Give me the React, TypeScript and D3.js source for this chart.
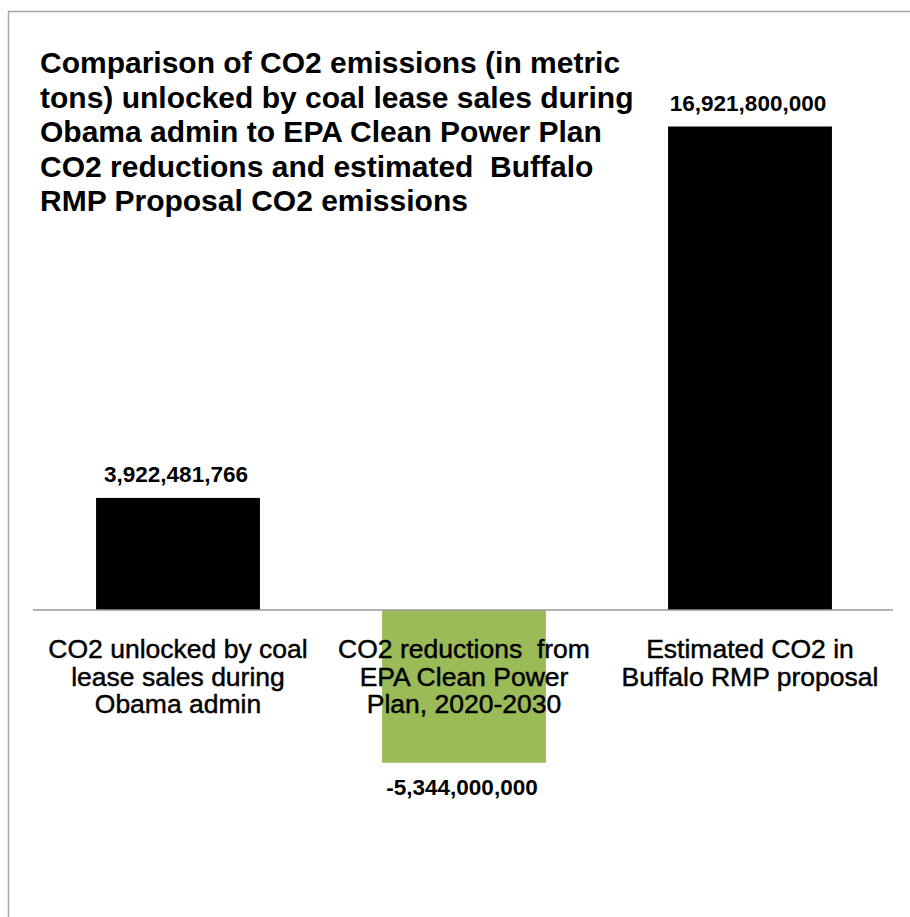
import React from "react";
import * as d3 from "d3";

const categories: string[][] = [
  ["CO2 unlocked by coal", "lease sales during", "Obama admin"],
  ["CO2 reductions  from", "EPA Clean Power", "Plan, 2020-2030"],
  ["Estimated CO2 in", "Buffalo RMP proposal"],
];
const categoryKeys = ["coal", "cpp", "buffalo"];
const values = [3922481766, -5344000000, 16921800000];
const valueLabels = ["3,922,481,766", "-5,344,000,000", "16,921,800,000"];
const barColors = ["#000000", "#9bbb59", "#000000"];
const titleLines = [
  "Comparison of CO2 emissions (in metric",
  "tons) unlocked by coal lease sales during",
  "Obama admin to EPA Clean Power Plan",
  "CO2 reductions and estimated  Buffalo",
  "RMP Proposal CO2 emissions",
];

const W = 910;
const H = 917;
const FONT = "'Liberation Sans', Arial, Helvetica, sans-serif";

export default function App() {
  const x = d3
    .scaleBand<string>()
    .domain(categoryKeys)
    .range([35, 893])
    .paddingInner(0.427)
    .paddingOuter(0.2135);
  const y = d3.scaleLinear().domain([-8e9, 18e9]).range([838.6, 95.7]);
  const y0 = y(0);

  return (
    <svg
      width={W}
      height={H}
      style={{ position: "absolute", left: 0, top: 0, background: "#fff" }}
      fontFamily={FONT}
    >
      <rect x={0} y={0} width={W} height={H} fill="#fff" />
      <rect
        x={8.5}
        y={11.5}
        width={W + 20}
        height={H + 20}
        fill="none"
        stroke="#a6a6a6"
        strokeWidth={1.5}
      />
      <g>
        {titleLines.map((t, i) => (
          <text
            key={i}
            x={40}
            y={73 + i * 34.5}
            fontSize={30}
            fontWeight="bold"
            fill="#000"
            style={{ whiteSpace: "pre" }}
          >
            {t}
          </text>
        ))}
      </g>
      <g>
        {values.map((v, i) => {
          const k = categoryKeys[i];
          const bx = x(k)!;
          const bw = x.bandwidth();
          const top = Math.min(y(v), y0);
          const h = Math.abs(y(v) - y0);
          const cx = bx + bw / 2;
          const labelY = v >= 0 ? y(v) - 16 : y(v) + 32;
          return (
            <g key={k}>
              <rect x={bx} y={top} width={bw} height={h} fill={barColors[i]} />
              <text
                x={cx - 2}
                y={labelY}
                textAnchor="middle"
                fontSize={22.5}
                fontWeight="bold"
                fill="#000"
              >
                {valueLabels[i]}
              </text>
            </g>
          );
        })}
      </g>
      <line x1={33} x2={893} y1={y0} y2={y0} stroke="#9a9a9a" strokeWidth={1.5} />
      <g>
        {categories.map((lines, i) => {
          const cx = x(categoryKeys[i])! + x.bandwidth() / 2;
          return lines.map((l, j) => (
            <text
              key={i + "-" + j}
              x={cx}
              y={658 + j * 27.5}
              textAnchor="middle"
              fontSize={26.5}
              fill="#000"
              stroke="#000"
              strokeWidth={0.45}
              style={{ whiteSpace: "pre" }}
            >
              {l}
            </text>
          ));
        })}
      </g>
    </svg>
  );
}
